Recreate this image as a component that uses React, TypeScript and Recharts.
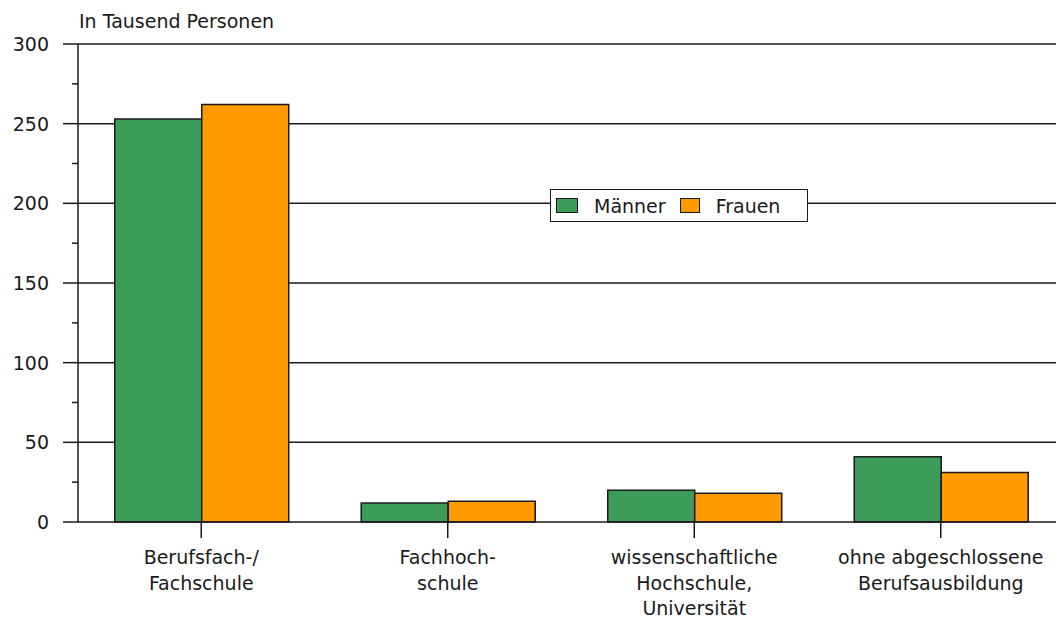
import React from 'react';
import { BarChart, Bar, XAxis, YAxis, CartesianGrid, Legend } from 'recharts';

const categories = [
  'Berufsfach-/\nFachschule',
  'Fachhoch-\nschule',
  'wissenschaftliche\nHochschule,\nUniversität',
  'ohne abgeschlossene\nBerufsausbildung',
];
const maenner = [253, 12, 20, 41];
const frauen = [262, 13, 18, 31];
const yTicks = [0, 25, 50, 75, 100, 125, 150, 175, 200, 225, 250, 275, 300];
const gridValues = [50, 100, 150, 200, 250, 300];

const data = categories.map((name, i) => ({ name, maenner: maenner[i], frauen: frauen[i] }));

const FONT = '"DejaVu Sans", sans-serif';
const INK = '#1a1a1a';
const GREEN = '#3d9c5a';
const ORANGE = '#ff9a00';

const YTick = ({ x, y, payload }: any) => {
  const major = payload.value % 50 === 0;
  return (
    <g>
      <line x1={x - (major ? 15 : 6)} x2={x} y1={y} y2={y} stroke={INK} strokeWidth={1.5} />
      {major && (
        <text x={x - 29} y={y + 7} textAnchor="end" fontSize={19} fontFamily={FONT} fill={INK}>
          {payload.value}
        </text>
      )}
    </g>
  );
};

const XTick = ({ x, y, payload }: any) => {
  const lines = String(payload.value).split('\n');
  return (
    <g>
      <line x1={x} x2={x} y1={y} y2={y + 16} stroke={INK} strokeWidth={1.5} />
      <text textAnchor="middle" fontSize={19} fontFamily={FONT} fill={INK}>
        {lines.map((l, i) => (
          <tspan key={i} x={x} y={y + 42 + i * 25.5}>
            {l}
          </tspan>
        ))}
      </text>
    </g>
  );
};

const LegendBox = () => (
  <div
    style={{
      display: 'flex',
      alignItems: 'center',
      height: 33,
      border: `1.5px solid ${INK}`,
      background: '#fff',
      fontFamily: FONT,
      fontSize: 19,
      color: INK,
      paddingLeft: 5,
      boxSizing: 'border-box',
      width: 258,
    }}
  >
    <span style={{ width: 20, height: 13, background: GREEN, border: `1.5px solid ${INK}`, marginRight: 16 }} />
    <span style={{ marginRight: 14 }}>Männer</span>
    <span style={{ width: 18, height: 13, background: ORANGE, border: `1.5px solid ${INK}`, marginRight: 16 }} />
    <span>Frauen</span>
  </div>
);

export default function App() {
  return (
    <div style={{ position: 'absolute', left: 0, top: 0, width: 1056, height: 619, overflow: 'hidden', background: '#fff' }}>
      <div
        style={{
          position: 'absolute',
          left: 79,
          top: 10,
          fontFamily: FONT,
          fontSize: 19,
          color: INK,
          zIndex: 2,
        }}
      >
        In Tausend Personen
      </div>
      <BarChart
        width={1100}
        height={619}
        data={data}
        margin={{ top: 44, right: 36, left: 0, bottom: 0 }}
        barCategoryGap="14.9%"
        barGap={0}
      >
        <CartesianGrid vertical={false} horizontalValues={gridValues} stroke={INK} strokeWidth={1.5} />
        <XAxis
          dataKey="name"
          height={97}
          interval={0}
          tickSize={0}
          tickMargin={0}
          tick={<XTick />}
          axisLine={{ stroke: INK, strokeWidth: 1.5 }}
          tickLine={false}
        />
        <YAxis
          width={78}
          domain={[0, 300]}
          ticks={yTicks}
          interval={0}
          tickSize={0}
          tickMargin={0}
          tick={<YTick />}
          tickLine={false}
          axisLine={{ stroke: INK, strokeWidth: 1.5 }}
        />
        <Legend
          layout="horizontal"
          verticalAlign="middle"
          content={<LegendBox />}
          wrapperStyle={{ position: 'absolute', left: 550, top: 189, width: 258, bottom: 'auto' }}
        />
        <Bar dataKey="maenner" name="Männer" fill={GREEN} stroke={INK} strokeWidth={1.5} isAnimationActive={false} />
        <Bar dataKey="frauen" name="Frauen" fill={ORANGE} stroke={INK} strokeWidth={1.5} isAnimationActive={false} />
      </BarChart>
    </div>
  );
}
